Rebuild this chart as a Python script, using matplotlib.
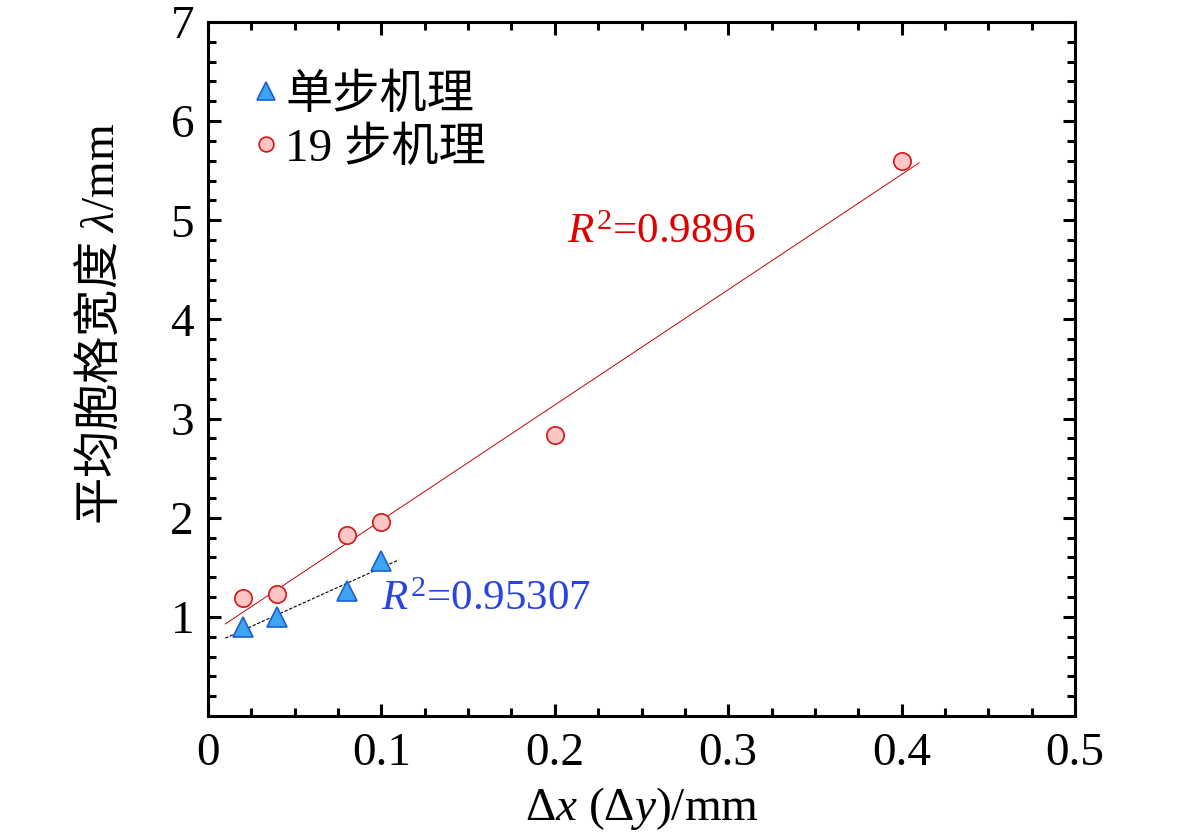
import numpy as np
import matplotlib
matplotlib.use('Agg')
import matplotlib.pyplot as plt
from matplotlib.ticker import MultipleLocator, FixedLocator, FuncFormatter

# data
dx_single = [0.02, 0.04, 0.08, 0.10]
lam_single = [0.90, 1.00, 1.26, 1.56]
dx_19 = [0.02, 0.04, 0.08, 0.10, 0.20, 0.40]
lam_19 = [1.19, 1.23, 1.83, 1.96, 2.83, 5.60]
r2_single = '0.95307'
r2_19 = '0.9896'

plt.rcParams['font.family'] = ['Liberation Serif', 'Noto Sans CJK SC']
plt.rcParams['mathtext.fontset'] = 'custom'
plt.rcParams['mathtext.rm'] = 'Liberation Serif'
plt.rcParams['mathtext.it'] = 'Liberation Serif:italic'
plt.rcParams['mathtext.bf'] = 'Liberation Serif:bold'

fs = 34
fig = plt.figure(figsize=(11.81, 8.36), dpi=100)
ax = fig.add_axes([0.1761, 0.1435, 0.7342, 0.8302])

# linear fits
p1 = np.polyfit(dx_single, lam_single, 1)
p19 = np.polyfit(dx_19, lam_19, 1)
xs1 = np.array([0.01, 0.11])
xs19 = np.array([0.01, 0.41])
ax.plot(xs19, np.polyval(p19, xs19), color='#c00000', lw=0.7)
ax.plot(xs1, np.polyval(p1, xs1), color='black', lw=0.8, ls=(0, (3, 1.5)))

ax.plot(dx_19, lam_19, 'o', ms=12.5, mfc='#ffc4c4', mec='#d01818', mew=1.2,
        label='19 步机理')
ax.plot(dx_single, lam_single, '^', ms=14.5, mfc='#3fa4f2', mec='#1a5fd0', mew=1.2,
        label='单步机理')

ax.set_xlim(0, 0.5)
ax.set_ylim(0, 7)
ax.xaxis.set_major_locator(MultipleLocator(0.1))
ax.xaxis.set_minor_locator(MultipleLocator(0.025))
ax.xaxis.set_major_formatter(FuncFormatter(lambda v, p: '0' if abs(v) < 1e-9 else f'{v:.1f}'))
ax.yaxis.set_major_locator(FixedLocator([1, 2, 3, 4, 5, 6, 7]))
ax.yaxis.set_minor_locator(MultipleLocator(0.2))

for s in ax.spines.values():
    s.set_linewidth(2.2)
ax.tick_params(which='both', direction='in', top=True, right=True,
               labelsize=fs, width=2.2)
ax.tick_params(axis='x', pad=12)
ax.tick_params(axis='y', pad=10)
ax.tick_params(which='major', length=9)
ax.tick_params(which='minor', length=6)

ax.set_xlabel(r'$\Delta x$ ($\Delta y$)/mm', fontsize=fs)
ax.xaxis.set_label_coords(0.5, -0.1)
ax.xaxis.label.set_va('top')

ax.set_ylabel(r'平均胞格宽度 $\lambda\mathrm{/mm}$', fontsize=fs,
              family='Noto Sans CJK SC')
ax.yaxis.set_label_coords(-0.096, 0.565)

ax.text(0.207, 4.77, r'$R^2$=' + r2_19, color='#e00000', fontsize=31)
ax.text(0.100, 1.07, r'$R^2$=' + r2_single, color='#2a44e0', fontsize=31)

h, l = ax.get_legend_handles_labels()
leg = ax.legend(h[::-1], l[::-1], loc='upper left', bbox_to_anchor=(0.029, 0.952),
                frameon=False, fontsize=fs, handlelength=0.6, handletextpad=0.1,
                labelspacing=0.2, borderaxespad=0, markerscale=0.85)

fig.savefig('out.png', dpi=100)
